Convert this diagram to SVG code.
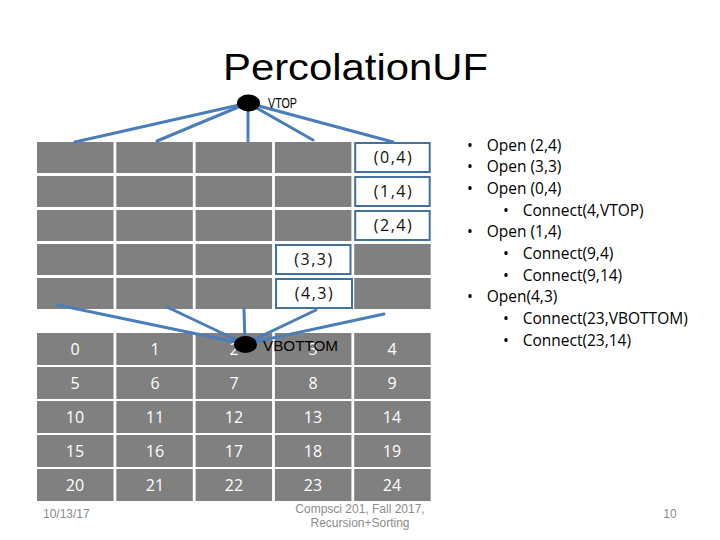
<svg xmlns="http://www.w3.org/2000/svg" width="720" height="540" viewBox="0 0 720 540">
<style>
.cell{fill:#808080}
.open{fill:#ffffff;stroke:#41719C;stroke-width:2}
.num{font-family:"Open Sans","DejaVu Sans",sans-serif;font-size:16px;fill:#ffffff;text-anchor:middle}
.lbl{font-family:"Open Sans","DejaVu Sans",sans-serif;font-size:16px;fill:#111111;text-anchor:middle;letter-spacing:1.5px}
.conn line{stroke:#4A7EBB;stroke-width:3;stroke-linecap:round}
.vnode{fill:#000000}
.vtxt{font-family:"Liberation Sans",Arial,sans-serif;font-size:14px;fill:#000000}
.bul{font-family:"Open Sans","DejaVu Sans",sans-serif;font-size:15.5px;fill:#000000}
.foot{font-family:"Liberation Sans",Arial,sans-serif;font-size:12px;fill:#8B8B8B}
</style>
<rect width="720" height="540" fill="#ffffff"/>
<text x="223" y="80" font-family="Liberation Sans,Arial,sans-serif" font-size="36" fill="#000000" textLength="265" lengthAdjust="spacingAndGlyphs">PercolationUF</text>

<g id="top-grid">
<rect class="cell" x="37" y="142" width="76.5" height="31"/>
<rect class="cell" x="116.3" y="142" width="76.5" height="31"/>
<rect class="cell" x="195.6" y="142" width="76.5" height="31"/>
<rect class="cell" x="274.9" y="142" width="76.5" height="31"/>
<rect class="cell" x="37" y="176" width="76.5" height="31"/>
<rect class="cell" x="116.3" y="176" width="76.5" height="31"/>
<rect class="cell" x="195.6" y="176" width="76.5" height="31"/>
<rect class="cell" x="274.9" y="176" width="76.5" height="31"/>
<rect class="cell" x="37" y="210" width="76.5" height="31"/>
<rect class="cell" x="116.3" y="210" width="76.5" height="31"/>
<rect class="cell" x="195.6" y="210" width="76.5" height="31"/>
<rect class="cell" x="274.9" y="210" width="76.5" height="31"/>
<rect class="cell" x="37" y="244" width="76.5" height="31"/>
<rect class="cell" x="116.3" y="244" width="76.5" height="31"/>
<rect class="cell" x="195.6" y="244" width="76.5" height="31"/>
<rect class="cell" x="354.2" y="244" width="76.5" height="31"/>
<rect class="cell" x="37" y="278" width="76.5" height="31"/>
<rect class="cell" x="116.3" y="278" width="76.5" height="31"/>
<rect class="cell" x="195.6" y="278" width="76.5" height="31"/>
<rect class="cell" x="354.2" y="278" width="76.5" height="31"/>
</g>
<g id="open-0-4"><rect class="open" x="355.2" y="143" width="74.5" height="29"/><text class="lbl" x="393.5" y="163">(0,4)</text></g>
<g id="open-1-4"><rect class="open" x="355.2" y="177" width="74.5" height="29"/><text class="lbl" x="393.5" y="197">(1,4)</text></g>
<g id="open-2-4"><rect class="open" x="355.2" y="211" width="74.5" height="29"/><text class="lbl" x="393.5" y="231">(2,4)</text></g>
<g id="open-3-3"><rect class="open" x="276" y="245" width="74.5" height="29"/><text class="lbl" x="314" y="265">(3,3)</text></g>
<g id="open-4-3"><rect class="open" x="276" y="279" width="76" height="29"/><text class="lbl" x="314.5" y="299">(4,3)</text></g>

<g id="bottom-grid">
<rect class="cell" x="37" y="333" width="76.5" height="32"/>
<rect class="cell" x="116.3" y="333" width="76.5" height="32"/>
<rect class="cell" x="195.6" y="333" width="76.5" height="32"/>
<rect class="cell" x="274.9" y="333" width="76.5" height="32"/>
<rect class="cell" x="354.2" y="333" width="76.5" height="32"/>
<rect class="cell" x="37" y="367" width="76.5" height="32"/>
<rect class="cell" x="116.3" y="367" width="76.5" height="32"/>
<rect class="cell" x="195.6" y="367" width="76.5" height="32"/>
<rect class="cell" x="274.9" y="367" width="76.5" height="32"/>
<rect class="cell" x="354.2" y="367" width="76.5" height="32"/>
<rect class="cell" x="37" y="401" width="76.5" height="32"/>
<rect class="cell" x="116.3" y="401" width="76.5" height="32"/>
<rect class="cell" x="195.6" y="401" width="76.5" height="32"/>
<rect class="cell" x="274.9" y="401" width="76.5" height="32"/>
<rect class="cell" x="354.2" y="401" width="76.5" height="32"/>
<rect class="cell" x="37" y="435" width="76.5" height="32"/>
<rect class="cell" x="116.3" y="435" width="76.5" height="32"/>
<rect class="cell" x="195.6" y="435" width="76.5" height="32"/>
<rect class="cell" x="274.9" y="435" width="76.5" height="32"/>
<rect class="cell" x="354.2" y="435" width="76.5" height="32"/>
<rect class="cell" x="37" y="469" width="76.5" height="32"/>
<rect class="cell" x="116.3" y="469" width="76.5" height="32"/>
<rect class="cell" x="195.6" y="469" width="76.5" height="32"/>
<rect class="cell" x="274.9" y="469" width="76.5" height="32"/>
<rect class="cell" x="354.2" y="469" width="76.5" height="32"/>
<text class="num" x="75" y="355">0</text><text class="num" x="155" y="355">1</text><text class="num" x="234" y="355">2</text><text class="num" x="313" y="355">3</text><text class="num" x="392" y="355">4</text>
<text class="num" x="75" y="389">5</text><text class="num" x="155" y="389">6</text><text class="num" x="234" y="389">7</text><text class="num" x="313" y="389">8</text><text class="num" x="392" y="389">9</text>
<text class="num" x="75" y="423">10</text><text class="num" x="155" y="423">11</text><text class="num" x="234" y="423">12</text><text class="num" x="313" y="423">13</text><text class="num" x="392" y="423">14</text>
<text class="num" x="75" y="457">15</text><text class="num" x="155" y="457">16</text><text class="num" x="234" y="457">17</text><text class="num" x="313" y="457">18</text><text class="num" x="392" y="457">19</text>
<text class="num" x="75" y="491">20</text><text class="num" x="155" y="491">21</text><text class="num" x="234" y="491">22</text><text class="num" x="313" y="491">23</text><text class="num" x="392" y="491">24</text>
</g>

<g id="connectors" class="conn">
<line x1="248" y1="103" x2="75" y2="142"/>
<line x1="248" y1="103" x2="157" y2="141"/>
<line x1="248" y1="103" x2="248" y2="141"/>
<line x1="248" y1="103" x2="313" y2="140"/>
<line x1="248" y1="103" x2="393" y2="142"/>
<line x1="245" y1="344" x2="58" y2="305"/>
<line x1="245" y1="344" x2="167" y2="307"/>
<line x1="245" y1="344" x2="244" y2="309"/>
<line x1="245" y1="344" x2="316" y2="310"/>
<line x1="245" y1="344" x2="384" y2="314"/>
</g>

<g id="vtop">
<ellipse class="vnode" cx="248.5" cy="103" rx="11.5" ry="8.5"/>
<text class="vtxt" x="268" y="107.5" textLength="29" lengthAdjust="spacingAndGlyphs">VTOP</text>
</g>
<g id="vbottom">
<ellipse class="vnode" cx="245.5" cy="344.5" rx="11.5" ry="8.5"/>
<text class="vtxt" x="263" y="351" font-size="15" textLength="75" lengthAdjust="spacingAndGlyphs">VBOTTOM</text>
</g>

<g id="steps" class="bul">
<text x="467" y="150.7">•</text><text x="486.7" y="150.7">Open (2,4)</text>
<text x="467" y="172.3">•</text><text x="486.7" y="172.3">Open (3,3)</text>
<text x="467" y="194">•</text><text x="486.7" y="194">Open (0,4)</text>
<text x="503" y="215.6">•</text><text x="522.7" y="215.6">Connect(4,VTOP)</text>
<text x="467" y="237.3">•</text><text x="486.7" y="237.3">Open (1,4)</text>
<text x="503" y="258.9">•</text><text x="522.7" y="258.9">Connect(9,4)</text>
<text x="503" y="280.6">•</text><text x="522.7" y="280.6">Connect(9,14)</text>
<text x="467" y="302.2">•</text><text x="486.7" y="302.2">Open(4,3)</text>
<text x="503" y="323.9">•</text><text x="522.7" y="323.9">Connect(23,VBOTTOM)</text>
<text x="503" y="345.5">•</text><text x="522.7" y="345.5">Connect(23,14)</text>
</g>

<g id="footer" class="foot">
<text x="43" y="518">10/13/17</text>
<text x="360" y="513" text-anchor="middle">Compsci 201, Fall 2017,</text>
<text x="360" y="527" text-anchor="middle">Recursion+Sorting</text>
<text x="670" y="518" text-anchor="middle">10</text>
</g>
</svg>
